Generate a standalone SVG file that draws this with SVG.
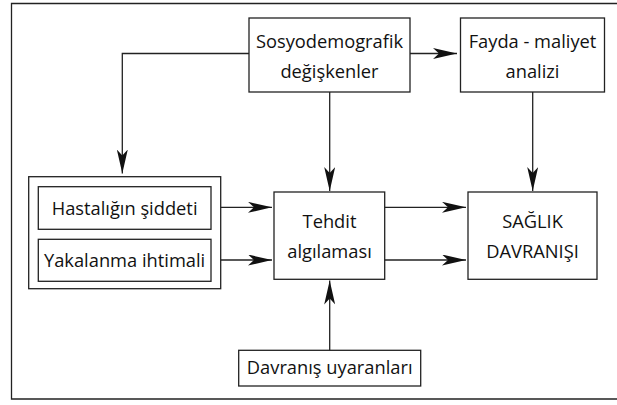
<svg xmlns="http://www.w3.org/2000/svg" width="617" height="405" viewBox="0 0 617 405">
<defs>
<marker id="ah" viewBox="0 0 24 11" refX="24" refY="5.5" markerWidth="24" markerHeight="11" markerUnits="userSpaceOnUse" orient="auto">
<path d="M0,0 L24,5.5 L0,11 L6,5.5 Z" fill="#111"/>
</marker>
<style>
.b{fill:#fff;stroke:#222;stroke-width:1.3}
.t{font-family:"Open Sans","Noto Sans",sans-serif;font-size:18.3px;fill:#111;text-anchor:middle}
.c{fill:none;stroke:#222;stroke-width:1.3;marker-end:url(#ah)}
</style>
</defs>
<rect width="617" height="405" fill="#fff"/>
<path d="M630,3.5 L11.5,3.5 L11.5,399 L630,399" fill="none" stroke="#222" stroke-width="1.3"/>
<g id="sosyo"><rect class="b" x="249" y="18" width="161" height="74"/><text class="t" x="329.5" y="48.3">Sosyodemografik</text><text class="t" x="329.5" y="78.3">değişkenler</text></g>
<g id="fayda"><rect class="b" x="460.5" y="18" width="144" height="74"/><text class="t" x="532.5" y="48.3">Fayda - maliyet</text><text class="t" x="532.5" y="78.3">analizi</text></g>
<g id="grup"><rect class="b" x="28.7" y="176.7" width="192" height="112"/></g>
<g id="hastalik"><rect class="b" x="38.3" y="186.7" width="172.7" height="42.6"/><text class="t" x="124.6" y="214.5">Hastalığın şiddeti</text></g>
<g id="yakalanma"><rect class="b" x="38.3" y="239.3" width="172.7" height="42"/><text class="t" x="124.6" y="267">Yakalanma ihtimali</text></g>
<g id="tehdit"><rect class="b" x="274" y="192" width="110.7" height="87.3"/><text class="t" x="329.5" y="228">Tehdit</text><text class="t" x="329.5" y="257.5">algılaması</text></g>
<g id="saglik"><rect class="b" x="468" y="192" width="129" height="87.3"/><text class="t" x="532.5" y="228">SAĞLIK</text><text class="t" x="532.5" y="257.5">DAVRANIŞI</text></g>
<g id="davranis"><rect class="b" x="238.7" y="350.3" width="182" height="35.7"/><text class="t" x="329.7" y="374">Davranış uyaranları</text></g>
<g id="connectors">
<path class="c" d="M410,53.5 L457,53.5"/>
<path class="c" d="M249,53.5 L122.3,53.5 L122.3,173.5"/>
<path class="c" d="M329.7,92 L329.7,191"/>
<path class="c" d="M532.7,92 L532.7,191"/>
<path class="c" d="M220.7,207.3 L272,207.3"/>
<path class="c" d="M220.7,260 L272,260"/>
<path class="c" d="M384.7,207.3 L466,207.3"/>
<path class="c" d="M384.7,260 L466,260"/>
<path class="c" d="M329.7,350.3 L329.7,280.5"/>
</g>
</svg>
